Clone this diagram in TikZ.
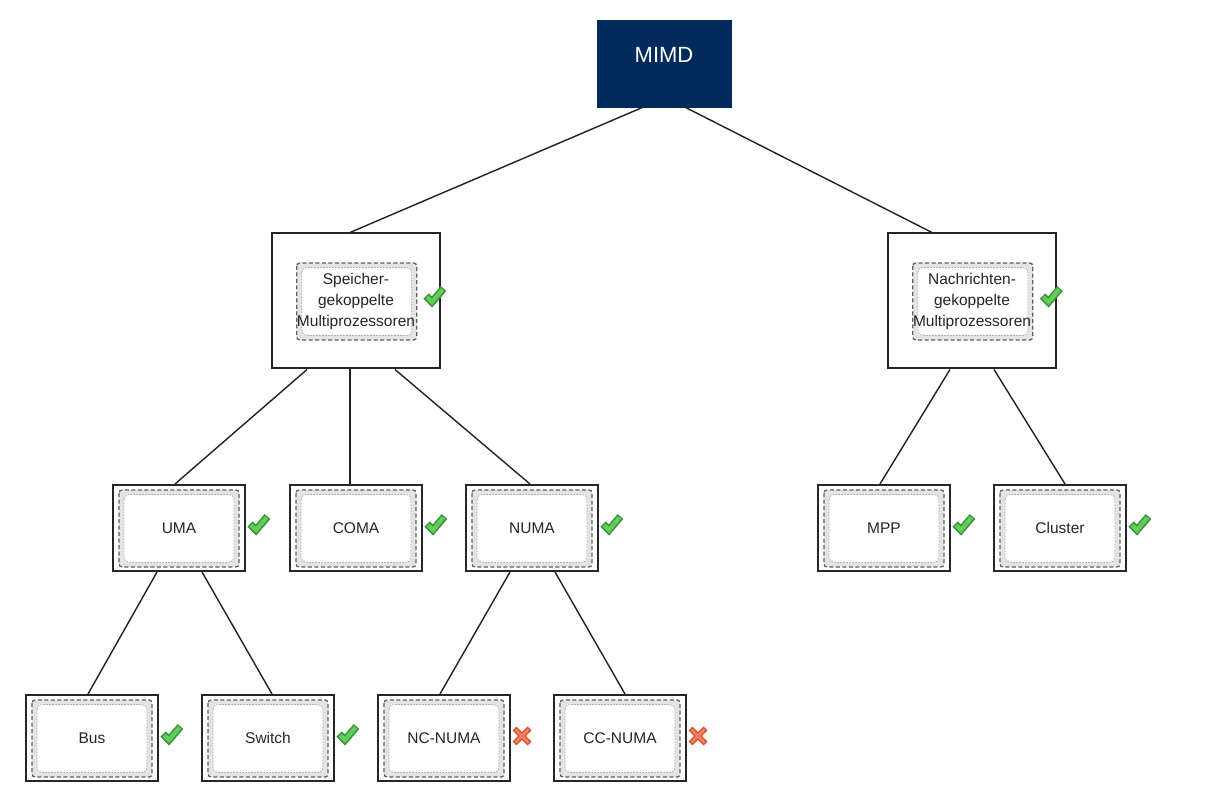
\documentclass[tikz,border=0pt]{standalone}
\usepackage{fontspec}
\setmainfont{Liberation Sans}
\definecolor{navy}{RGB}{0,43,92}
\definecolor{bandfill}{RGB}{228,228,228}
\definecolor{banddraw}{RGB}{95,95,95}
\definecolor{dotdraw}{RGB}{165,165,165}
\definecolor{chkdark}{RGB}{58,150,58}
\definecolor{chklight}{RGB}{100,205,90}
\definecolor{xdark}{RGB}{225,75,45}
\definecolor{xlight}{RGB}{250,130,100}
\definecolor{linecol}{RGB}{34,34,34}
\begin{document}
\begin{tikzpicture}[x=1pt,y=-1pt,
  box/.style={draw=black!85, line width=2pt, inner sep=0pt, font=\fontsize{15.5}{21}\selectfont, text=black!85, align=center},
  small/.style={box, minimum width=132pt, minimum height=86pt},
  big/.style={box, minimum width=168pt, minimum height=135pt},
  root/.style={fill=navy, draw=navy, minimum width=134pt, minimum height=87pt, inner sep=0pt, text=white, font=\fontsize{22}{26}\selectfont},
  edge/.style={draw=linecol, line width=1.4pt},
  deco/.pic={
    \draw[fill=bandfill, draw=banddraw, line width=1.3pt, dash pattern=on 4pt off 2.5pt, rounded corners=3pt] (-60,-38.5) rectangle (60,38.5);
    \draw[fill=white, draw=dotdraw, line width=0.6pt, dash pattern=on 1.5pt off 1.5pt, rounded corners=5pt] (-55,-34) rectangle (55,34);
  },
  chk/.pic={
    \draw[chkdark, line width=7.5pt, line join=miter] (-6,-6) -- (0,0) -- (11.5,-13.5);
    \draw[chklight, line width=4.2pt, line join=miter] (-5,-5) -- (0,0) -- (10.6,-12.6);
  },
  crs/.pic={
    \draw[xdark, line width=5.5pt] (-7.5,-7.5) -- (7.5,7.5) (-7.5,7.5) -- (7.5,-7.5);
    \draw[xlight, line width=2.5pt] (-6.5,-6.5) -- (6.5,6.5) (-6.5,6.5) -- (6.5,-6.5);
  }
]
\useasboundingbox (0,0) rectangle (1218,791);
\fill[white] (0,0) rectangle (1218,791);

% inner decorations
\pic at (356.7,301.5) {deco};
\pic at (972.8,301.5) {deco};
\foreach \x in {179,356,532,884,1060} {\pic at (\x,528.5) {deco};}
\foreach \x in {92,268,444,620} {\pic at (\x,738.5) {deco};}

% nodes
\node[root] (mimd) at (664,63.5) {\raisebox{17pt}{MIMD}};
\node[big] (spk) at (356,301) {Speicher-\\gekoppelte\\Multiprozessoren};
\node[big] (nak) at (972,301) {Nachrichten-\\gekoppelte\\Multiprozessoren};
\node[small] (uma) at (179,528) {UMA};
\node[small] (coma) at (356,528) {COMA};
\node[small] (numa) at (532,528) {NUMA};
\node[small] (mpp) at (884,528) {MPP};
\node[small] (cluster) at (1060,528) {Cluster};
\node[small] (bus) at (92,738) {Bus};
\node[small] (switch) at (268,738) {Switch};
\node[small] (ncnuma) at (444,738) {NC-NUMA};
\node[small] (ccnuma) at (620,738) {CC-NUMA};

% connectors
\draw[edge] ([xshift=-21pt]mimd.south) -- ([xshift=-6pt]spk.north);
\draw[edge] ([xshift=21pt]mimd.south) -- ([xshift=-40pt]nak.north);
\draw[edge] ([xshift=-49pt]spk.south) -- ([xshift=-4pt]uma.north);
\draw[edge] ([xshift=-6pt]spk.south) -- ([xshift=-6pt]coma.north);
\draw[edge] ([xshift=39pt]spk.south) -- ([xshift=-2pt]numa.north);
\draw[edge] ([xshift=-22pt]nak.south) -- ([xshift=-4pt]mpp.north);
\draw[edge] ([xshift=22pt]nak.south) -- ([xshift=5pt]cluster.north);
\draw[edge] ([xshift=-22pt]uma.south) -- ([xshift=-4pt]bus.north);
\draw[edge] ([xshift=23pt]uma.south) -- ([xshift=4pt]switch.north);
\draw[edge] ([xshift=-22pt]numa.south) -- ([xshift=-4pt]ncnuma.north);
\draw[edge] ([xshift=23pt]numa.south) -- ([xshift=5pt]ccnuma.north);

% status marks
\pic at (432,302) {chk};
\pic at (1048.5,302) {chk};
\pic at (256,530) {chk};
\pic at (433,530) {chk};
\pic at (609,530) {chk};
\pic at (961,530) {chk};
\pic at (1137,530) {chk};
\pic at (169,740) {chk};
\pic at (345,740) {chk};
\pic at (522,736) {crs};
\pic at (698,736) {crs};
\end{tikzpicture}
\end{document}
